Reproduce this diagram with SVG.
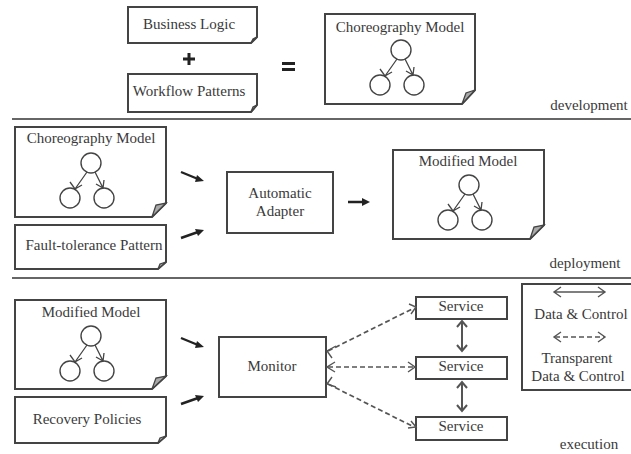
<svg xmlns="http://www.w3.org/2000/svg" width="631" height="454" viewBox="0 0 631 454">
<style>
text{font-family:"Liberation Serif","Times New Roman",serif;font-size:15px;fill:#3a3a3a;text-anchor:middle}
.n{fill:#fff;stroke:#444;stroke-width:2}
.f{fill:#aaa;stroke:#444;stroke-width:1.3}
.c{fill:#fff;stroke:#444;stroke-width:1.4}
.l{fill:none;stroke:#444;stroke-width:1.3}
.s{fill:none;stroke:#666;stroke-width:2}
.b{fill:none;stroke:#222;stroke-width:2.4}
.d{fill:none;stroke:#555;stroke-width:1.7;stroke-dasharray:5 3}
.w{fill:none;stroke:#555;stroke-width:2}
.h{fill:none;stroke:#555;stroke-width:1.4}
.fill{fill:#222}
</style>
<defs>
<g id="tree">
<circle class="c" cx="0" cy="0" r="10"/>
<circle class="c" cx="-21" cy="35" r="10"/>
<circle class="c" cx="13" cy="35" r="10"/>
<path class="l" d="M-4 9L-16 26M-21 19L-16 26L-9 22M4 9L12 25M5 21L12 25L13 17"/>
</g>
</defs>
<g id="separators">
<path class="s" d="M12 119H631M12 278H631"/>
</g>
<g id="business-logic"><path class="n" d="M128 7H257V37L251 43H128Z"/><path class="f" d="M251 43L253 39L257 37Z"/><text x="189" y="29">Business Logic</text></g>
<g id="workflow-patterns"><path class="n" d="M128 74H257V105L251 112H128Z"/><path class="f" d="M251 112L253 107L257 105Z"/><text x="189" y="96">Workflow Patterns</text></g>
<g id="plus"><path d="M189 53V65M183 59H195" fill="none" stroke="#222" stroke-width="3"/></g>
<g id="equals"><path d="M282 63.5H295M282 69.5H295" fill="none" stroke="#222" stroke-width="3"/></g>
<g id="choreography-top"><path class="n" d="M325 14H475V90L462 104H325Z"/><path class="f" d="M462 104L466 93L475 90Z"/><text x="400" y="32">Choreography Model</text><use href="#tree" x="401" y="50"/></g>
<text x="589" y="110">development</text>
<g id="choreography-mid"><path class="n" d="M15 127H166V203L152 217H15Z"/><path class="f" d="M152 217L156 205L166 203Z"/><text x="91" y="143">Choreography Model</text><use href="#tree" x="91" y="163"/></g>
<g id="fault-tolerance"><path class="n" d="M15 225H166V262L158 269H15Z"/><path class="f" d="M158 269L160 264L166 262Z"/><text x="94" y="250">Fault-tolerance Pattern</text></g>
<g id="adapter"><rect class="n" x="227" y="172" width="106" height="61"/><text x="280" y="198">Automatic</text><text x="280" y="216">Adapter</text></g>
<g id="modified-mid"><path class="n" d="M393 150H544V225L530 239H393Z"/><path class="f" d="M530 239L534 227L544 225Z"/><text x="468" y="166">Modified Model</text><use href="#tree" x="469" y="185"/></g>
<text x="585" y="268">deployment</text>
<g id="modified-low"><path class="n" d="M15 300H166V376L152 389H15Z"/><path class="f" d="M152 389L156 378L166 376Z"/><text x="91" y="317">Modified Model</text><use href="#tree" x="91" y="336"/></g>
<g id="recovery"><path class="n" d="M15 397H166V436L158 443H15Z"/><path class="f" d="M158 443L160 438L166 436Z"/><text x="87" y="424">Recovery Policies</text></g>
<g id="monitor"><rect class="n" x="219" y="337" width="107" height="60"/><text x="272" y="371">Monitor</text></g>
<g id="service1"><rect class="n" x="416" y="297" width="91" height="22"/><text x="461" y="311">Service</text></g>
<g id="service2"><rect class="n" x="416" y="357" width="91" height="22"/><text x="461" y="371">Service</text></g>
<g id="service3"><rect class="n" x="416" y="417" width="91" height="23"/><text x="461" y="431">Service</text></g>
<g id="legend"><rect class="n" x="522" y="284" width="112" height="106"/>
<text x="581" y="319">Data &amp; Control</text><text x="577" y="363">Transparent</text><text x="578" y="381">Data &amp; Control</text></g>
<text x="589" y="449">execution</text>
<g id="connectors">
<path class="b" d="M181 172L198 179M181 238L198 232M348 202H363"/>
<path class="fill" d="M204 181L195 182L197 175ZM204 230L198 236L195 229ZM370 202L362 198V206Z"/>
<path class="b" d="M181 338L198 345M181 404L198 398"/>
<path class="fill" d="M204 347L195 348L197 341ZM204 396L198 402L195 395Z"/>
<path class="d" d="M328 351L414 308M328 367H414M328 384L414 427"/>
<path class="h" d="M336 346L327 351L332 358M409 304L416 307L411 314M335 362L327 367L335 372M408 362L415 367L408 372M332 377L327 384L336 387M411 421L416 427L408 428"/>
<path class="w" d="M462 321V351M462 382V411"/>
<path class="w" d="M457 327L462 321L467 327M457 345L462 351L467 345M457 388L462 382L467 388M457 405L462 411L467 405"/>
<path class="h" d="M555 292H604M561 287L554 292L561 297M598 287L605 292L598 297"/>
<path class="d" d="M555 337H604" stroke-dasharray="4 3"/>
<path class="h" d="M561 332L554 337L561 342M598 332L605 337L598 342"/>
</g>
</svg>
